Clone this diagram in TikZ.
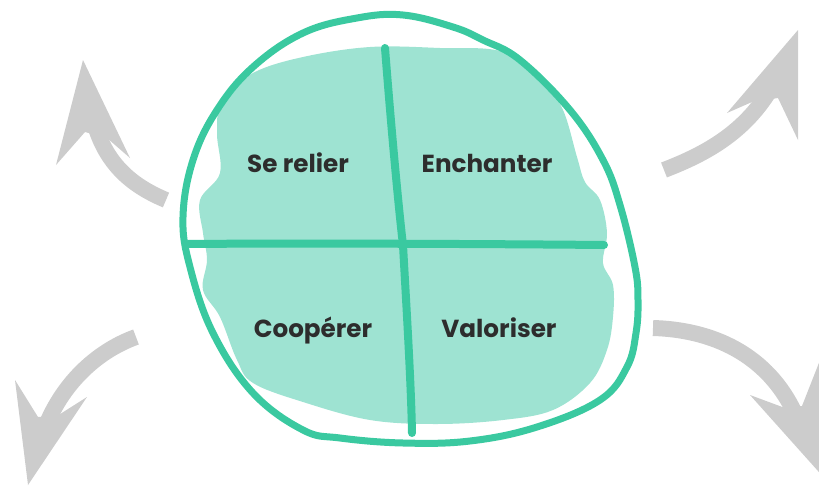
\documentclass[tikz,border=0pt]{standalone}
\usepackage{fontspec}
\newfontfamily\labfont{Poppins}
\definecolor{ringgreen}{RGB}{58,201,160}
\definecolor{blobgreen}{RGB}{158,227,210}
\definecolor{arrowgray}{RGB}{204,204,204}
\definecolor{labelgray}{RGB}{45,45,45}
\tikzset{
  ring/.style={draw=ringgreen,line width=5.25pt,line cap=round,line join=round},
  crossline/.style={draw=ringgreen,line width=6pt,line cap=round},
  quadlabel/.style={font=\labfont\bfseries\fontsize{18.5}{22}\selectfont,text=labelgray,anchor=base,inner sep=0pt},
  shaft/.style={draw=arrowgray,line width=12pt},
  arrowhead/.style={fill=arrowgray,draw=none},
}
\begin{document}
\begin{tikzpicture}[x=0.75pt,y=-0.75pt]
\useasboundingbox (0,0) rectangle (819,486);
\clip (0,0) rectangle (819,486);
% filled blob
\fill[blobgreen] plot[smooth cycle,tension=0.6] coordinates {
 (370,47) (440,48) (503,52) (543,83) (563,110) (577,157) (585,182) (600,200)
 (607,233) (603,263) (613,285) (613,317) (607,350) (590,383) (553,410)
 (503,420) (437,424) (370,420) (303,402) (253,383) (237,360) (220,317)
 (203,290) (207,260) (203,233) (200,200) (220,173) (217,133) (222,100)
 (253,73) (303,57)};
% outer ring
\draw[ring] plot[smooth cycle,tension=0.65] coordinates {
 (403,15) (453,27) (483,40) (520,60) (570,110) (603,160) (620,205) (635,267)
 (638,300) (636,333) (627,367) (600,400) (537,427) (470,441) (403,443)
 (340,438) (303,430) (253,393) (213,333) (190,267) (183,217) (193,160)
 (217,110) (253,67) (303,33) (357,18)};
% cross
\draw[crossline] (385,48) .. controls (393,150) and (400,220) .. (403,245) .. controls (406,300) and (411,380) .. (412,433);
\draw[crossline] (188,244) .. controls (300,243) and (500,244) .. (604,245);
% labels
\node[quadlabel] (relier) at (298,172) {Se relier};
\node[quadlabel] (enchanter) at (487,172) {Enchanter};
\node[quadlabel] (cooperer) at (313,337) {Coopérer};
\node[quadlabel] (valoriser) at (499,337) {Valoriser};
% upper-left arrow
\draw[shaft] (166,200) .. controls (130,185) and (104,162) .. (93,118);
\fill[arrowhead] (83,60) -- (130,158) -- (107,138) -- (85,132) -- (56,165) -- cycle;
% upper-right arrow
\draw[shaft] (664,170) .. controls (700,156) and (742,136) .. (770,90);
\fill[arrowhead] (798,30) -- (798,140) -- (778,98) -- (752,102) -- (727,113) -- cycle;
% lower-left arrow
\draw[shaft] (136,337) .. controls (100,350) and (64,380) .. (45,428);
\fill[arrowhead] (28,485) -- (15,380) -- (38,417) -- (57,416) -- (87,397) -- cycle;
% lower-right arrow
\draw[shaft] (653,328) .. controls (720,330) and (772,360) .. (797,418);
\fill[arrowhead] (835,490) -- (750,395) -- (785,408) -- (802,406) -- (826,345) -- cycle;
\end{tikzpicture}
\end{document}
